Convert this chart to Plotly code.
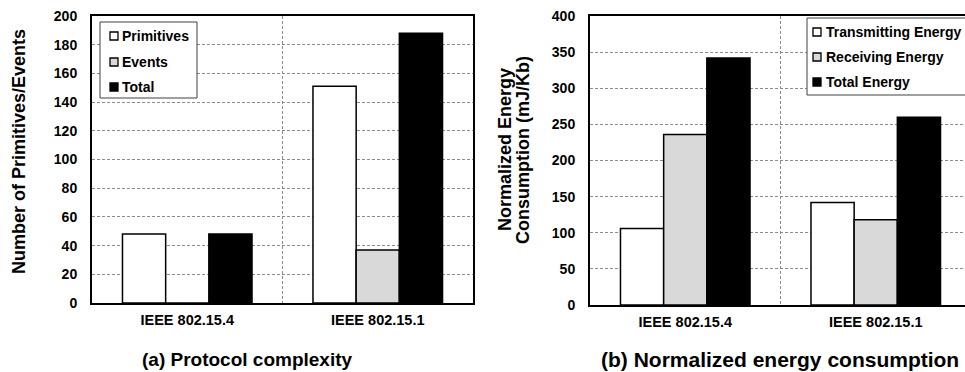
import plotly.graph_objects as go

# ---- data -------------------------------------------------------------
protocols = ["IEEE 802.15.4", "IEEE 802.15.1"]

complexity_names = ["Primitives", "Events", "Total"]
primitives = [48, 151]
events = [0, 37]
total = [48, 188]

energy_names = ["Transmitting Energy", "Receiving Energy", "Total Energy"]
tx_energy = [106, 142]
rx_energy = [236, 118]
total_energy = [342, 260]

fills = ["white", "#d9d9d9", "black"]

# ---- geometry (figure pixels) ----------------------------------------
W, H = 965, 372
FONT = "Liberation Sans, Arial, sans-serif"


def px(x):
    return x / W


def py(y):
    return 1 - y / H


x_idx = list(range(len(protocols)))

fig = go.Figure()

for name, vals, col in zip(complexity_names, [primitives, events, total], fills):
    fig.add_trace(go.Bar(
        x=x_idx, y=vals, name=name, xaxis="x", yaxis="y",
        marker=dict(color=col, line=dict(color="black", width=1.5)),
        showlegend=False,
    ))

for name, vals, col in zip(energy_names, [tx_energy, rx_energy, total_energy], fills):
    fig.add_trace(go.Bar(
        x=x_idx, y=vals, name=name, xaxis="x2", yaxis="y2",
        marker=dict(color=col, line=dict(color="black", width=1.5)),
        showlegend=False,
    ))

grid = dict(showgrid=True, gridcolor="#8c8c8c", gridwidth=1, griddash="3px,2px")
tickfont = dict(family=FONT, size=14, color="black", weight="bold")

xcommon = dict(
    tickmode="array", tickvals=x_idx, ticktext=protocols, ticks="",
    showgrid=False, zeroline=False, showline=True, linecolor="black", linewidth=2,
    tickfont=dict(family=FONT, size=14.5, color="black", weight="bold"),
    ticklabelstandoff=3,
    minor=dict(tickmode="array", tickvals=[0.5], showgrid=True,
               gridcolor="#8c8c8c", gridwidth=1, griddash="3px,2px", ticks=""),
)
ycommon = dict(
    ticks="", zeroline=False, showline=True, linecolor="black", linewidth=2,
    tickfont=tickfont, ticklabelstandoff=10, **grid,
)

slot = 381 / 2  # pixels per category

fig.update_layout(
    width=W, height=H,
    margin=dict(l=0, r=0, t=0, b=0, autoexpand=False),
    paper_bgcolor="white", plot_bgcolor="white",
    font=dict(family=FONT, color="black", weight="bold"),
    barmode="group", bargap=0.32, bargroupgap=0,
    xaxis=dict(domain=[px(92), px(473)], range=[-0.5, 1.5], anchor="y",
               mirror=True, **xcommon),
    yaxis=dict(domain=[py(303), py(16)], range=[0, 200], dtick=20, anchor="x",
               mirror=True, **ycommon),
    xaxis2=dict(domain=[px(590), 1.0], range=[-0.5, -0.5 + (W - 590) / slot],
                anchor="y2", mirror=True, **xcommon),
    yaxis2=dict(domain=[py(305), py(16)], range=[0, 400], dtick=50, anchor="x2",
                mirror=False, **ycommon),
)

shapes = []
annotations = []


def legend(box, rows, sym_x, text_x, names):
    x0, y0, x1, y1 = box
    shapes.append(dict(type="rect", xref="paper", yref="paper",
                       x0=px(x0), x1=px(x1), y0=py(y1), y1=py(y0),
                       line=dict(color="#404040", width=1), fillcolor="white",
                       layer="above"))
    for yc, name, col in zip(rows, names, fills):
        shapes.append(dict(type="rect", xref="paper", yref="paper",
                           x0=px(sym_x), x1=px(sym_x + 8),
                           y0=py(yc + 4), y1=py(yc - 4),
                           line=dict(color="black", width=1.3), fillcolor=col,
                           layer="above"))
        annotations.append(dict(xref="paper", yref="paper", x=px(text_x), y=py(yc),
                                xanchor="left", yanchor="middle", showarrow=False,
                                text=name,
                                font=dict(family=FONT, size=14, color="black",
                                          weight="bold")))


legend((100, 22, 197, 98), [36, 62, 87], 110, 120, complexity_names)
legend((807, 18, 975, 95), [32, 57, 82], 813, 824, energy_names)

# axis titles
annotations.append(dict(xref="paper", yref="paper", x=px(19), y=py(152),
                        xanchor="center", yanchor="middle", showarrow=False,
                        textangle=-90, text="Number of Primitives/Events",
                        font=dict(family=FONT, size=18, color="black", weight="bold")))
annotations.append(dict(xref="paper", yref="paper", x=px(505), y=py(150),
                        xanchor="center", yanchor="middle", showarrow=False,
                        textangle=-90, text="Normalized Energy",
                        font=dict(family=FONT, size=18, color="black", weight="bold")))
annotations.append(dict(xref="paper", yref="paper", x=px(523), y=py(150),
                        xanchor="center", yanchor="middle", showarrow=False,
                        textangle=-90, text="Consumption (mJ/Kb)",
                        font=dict(family=FONT, size=18, color="black", weight="bold")))

# panel captions
annotations.append(dict(xref="paper", yref="paper", x=px(247), y=py(359),
                        xanchor="center", yanchor="middle", showarrow=False,
                        text="(a) Protocol complexity",
                        font=dict(family=FONT, size=19, color="black", weight="bold")))
annotations.append(dict(xref="paper", yref="paper", x=px(780), y=py(359),
                        xanchor="center", yanchor="middle", showarrow=False,
                        text="(b) Normalized energy consumption",
                        font=dict(family=FONT, size=21, color="black", weight="bold")))

fig.update_layout(shapes=shapes, annotations=annotations)

fig.write_html("out.html")
